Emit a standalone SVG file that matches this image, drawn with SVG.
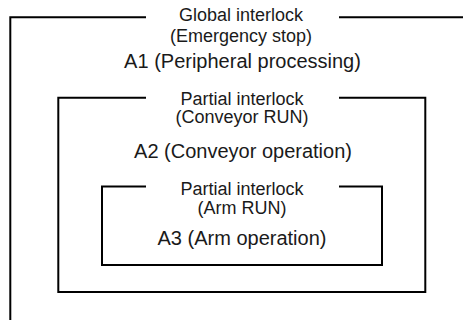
<svg xmlns="http://www.w3.org/2000/svg" width="463" height="320" viewBox="0 0 463 320">
<style>
.frame{fill:none;stroke:#000;stroke-width:2;stroke-linecap:butt;stroke-linejoin:miter}
.lbl{font-family:"Liberation Sans",Arial,sans-serif;font-size:18px;fill:#1a1a1a;text-anchor:middle}
.area{font-family:"Liberation Sans",Arial,sans-serif;font-size:20px;fill:#1a1a1a;text-anchor:middle}
</style>
<rect width="463" height="320" fill="#fff"/>
<g id="global">
<path class="frame" d="M146,17.3 H10.3 V320 M339,17.3 H463"/>
<text class="lbl" x="241" y="21">Global interlock</text>
<text class="lbl" x="241" y="41.5">(Emergency stop)</text>
<text class="area" x="242.5" y="68">A1 (Peripheral processing)</text>
</g>
<g id="partial-conveyor">
<path class="frame" d="M146,97.7 H58.3 V292 H425.3 V97.7 H339"/>
<text class="lbl" x="242" y="105">Partial interlock</text>
<text class="lbl" x="242" y="123.3">(Conveyor RUN)</text>
<text class="area" x="243" y="158.3">A2 (Conveyor operation)</text>
</g>
<g id="partial-arm">
<path class="frame" d="M146,186.5 H102 V265 H382 V186.5 H339"/>
<text class="lbl" x="242" y="195">Partial interlock</text>
<text class="lbl" x="242" y="214.3">(Arm RUN)</text>
<text class="area" x="242" y="245">A3 (Arm operation)</text>
</g>
</svg>
